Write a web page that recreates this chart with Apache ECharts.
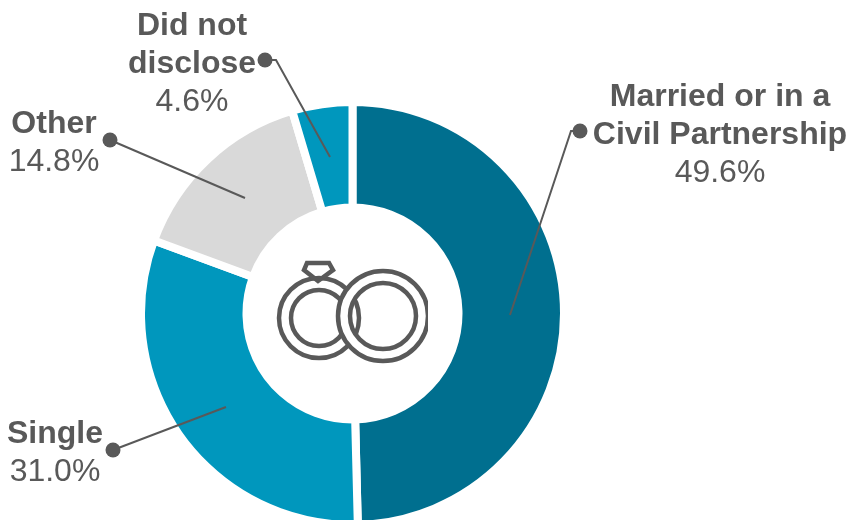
<!DOCTYPE html>
<html>
<head>
<meta charset="utf-8">
<style>html,body{margin:0;padding:0;background:#fff}#chart{width:851px;height:520px}</style>
<script src="https://cdn.jsdelivr.net/npm/echarts@6/dist/echarts.min.js"></script>
</head>
<body>
<div id="chart"></div>
<script>
// Marital status breakdown
const categories = ['Married or in a\nCivil Partnership', 'Single', 'Other', 'Did not\ndisclose'];
const shares = [49.6, 31.0, 14.8, 4.6];
const sliceColors = ['#006F8F', '#0097BD', '#D9D9D9', '#0097BD'];

// Callout placement per slice: text anchor, dot, optional elbow, and the point inside the slice
const callouts = [
  { text: [720, 135], dot: [580, 131], elbow: [571, 131], tip: [510, 315] },
  { text: [55, 453], dot: [113, 450], elbow: null, tip: [226, 407] },
  { text: [54, 143], dot: [110, 140], elbow: null, tip: [245, 198] },
  { text: [192, 64], dot: [265, 60], elbow: [276, 60], tip: [330, 157] }
];

const INK = '#595959';
const FONT = 'Liberation Sans, Arial, sans-serif';
const chart = echarts.init(document.getElementById('chart'), null, { renderer: 'canvas' });

const dots = callouts.map(c => ({
  type: 'circle', z: 20,
  shape: { cx: c.dot[0], cy: c.dot[1], r: 7.5 },
  style: { fill: INK }
}));

const leaders = callouts.map(c => ({
  type: 'polyline', z: 19,
  shape: { points: c.elbow ? [c.dot, c.elbow, c.tip] : [c.dot, c.tip] },
  style: { fill: null, stroke: INK, lineWidth: 2 }
}));

// Wedding rings icon in the hole of the donut
const ringLine = { fill: null, stroke: INK, lineWidth: 4.5 };
const icon = [
  { type: 'circle', z: 10, shape: { cx: 319, cy: 318, r: 40 }, style: ringLine },
  { type: 'circle', z: 10, shape: { cx: 319, cy: 318, r: 28 }, style: ringLine },
  { type: 'ring', z: 11, shape: { cx: 383, cy: 316, r: 45, r0: 33 }, style: { fill: '#fff', stroke: INK, lineWidth: 4.5 } },
  { type: 'rect', z: 12, shape: { x: 428, y: 290, width: 6, height: 50 }, style: { fill: '#fff' } },
  { type: 'polygon', z: 10, shape: { points: [[307, 263], [329, 263], [333, 270], [318, 281], [304, 270]] }, style: ringLine }
];

chart.setOption({
  animation: false,
  backgroundColor: '#fff',
  graphic: { elements: leaders.concat(dots, icon) },
  series: [{
    type: 'pie',
    center: [352.5, 313.5],
    radius: [106, 211.5],
    startAngle: 90,
    clockwise: true,
    avoidLabelOverlap: false,
    itemStyle: { borderColor: '#fff', borderWidth: 8 },
    emphasis: { disabled: true },
    data: categories.map((name, i) => ({
      name, value: shares[i],
      itemStyle: { color: sliceColors[i] }
    })),
    label: {
      show: true,
      position: 'outside',
      color: INK,
      align: 'center',
      fontFamily: FONT,
      formatter: p => `{n|${p.name.split('\n').join('}\n{n|')}}\n{v|${p.value.toFixed(1)}%}`,
      rich: {
        n: { fontSize: 32, fontWeight: 'bold', lineHeight: 38, color: INK, fontFamily: FONT },
        v: { fontSize: 32, lineHeight: 38, color: INK, fontFamily: FONT }
      }
    },
    labelLine: { show: false },
    labelLayout: params => {
      const c = callouts[params.dataIndex];
      return { x: c.text[0], y: c.text[1], align: 'center', verticalAlign: 'middle' };
    }
  }]
});
</script>
</body>
</html>
